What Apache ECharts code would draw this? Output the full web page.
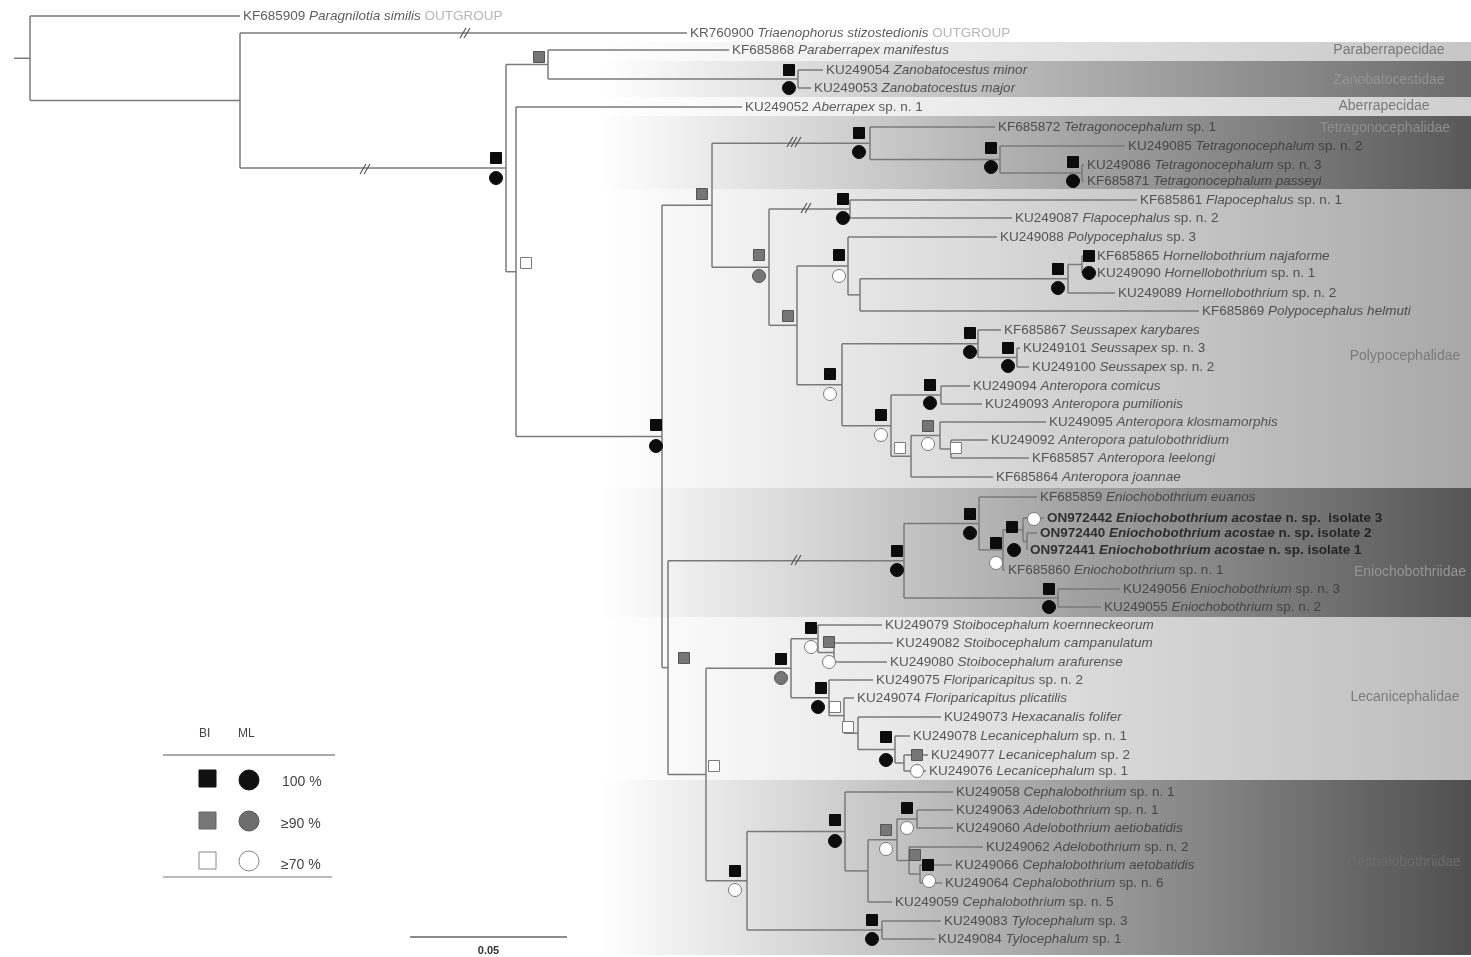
<!DOCTYPE html>
<html>
<head>
<meta charset="utf-8">
<title>Lecanicephalidea tree</title>
<script src="https://cdn.jsdelivr.net/npm/echarts@6/dist/echarts.min.js"></script>
<style>
    html, body { margin: 0; padding: 0; background: #fff; }
    #treeChart { width: 1471px; height: 957px; }
</style>
</head>
<body>
<div id="treeChart"></div>
<script>
// ---- leaves, top to bottom ----
var accessions = ['KF685909','KR760900','KF685868','KU249054','KU249053','KU249052','KF685872','KU249085','KU249086','KF685871',
    'KF685861','KU249087','KU249088','KF685865','KU249090','KU249089','KF685869','KF685867','KU249101','KU249100',
    'KU249094','KU249093','KU249095','KU249092','KF685857','KF685864','KF685859','ON972442','ON972440','ON972441',
    'KF685860','KU249056','KU249055','KU249079','KU249082','KU249080','KU249075','KU249074','KU249073','KU249078',
    'KU249077','KU249076','KU249058','KU249063','KU249060','KU249062','KU249066','KU249064','KU249059','KU249083','KU249084'];
var taxa = ['Paragnilotia similis','Triaenophorus stizostedionis','Paraberrapex manifestus','Zanobatocestus minor','Zanobatocestus major',
    'Aberrapex','Tetragonocephalum','Tetragonocephalum','Tetragonocephalum','Tetragonocephalum passeyi',
    'Flapocephalus','Flapocephalus','Polypocephalus','Hornellobothrium najaforme','Hornellobothrium','Hornellobothrium',
    'Polypocephalus helmuti','Seussapex karybares','Seussapex','Seussapex',
    'Anteropora comicus','Anteropora pumilionis','Anteropora klosmamorphis','Anteropora patulobothridium','Anteropora leelongi','Anteropora joannae',
    'Eniochobothrium euanos','Eniochobothrium acostae','Eniochobothrium acostae','Eniochobothrium acostae',
    'Eniochobothrium','Eniochobothrium','Eniochobothrium','Stoibocephalum koernneckeorum','Stoibocephalum campanulatum','Stoibocephalum arafurense',
    'Floriparicapitus','Floriparicapitus plicatilis','Hexacanalis folifer','Lecanicephalum','Lecanicephalum','Lecanicephalum',
    'Cephalobothrium','Adelobothrium','Adelobothrium aetiobatidis','Adelobothrium','Cephalobothrium aetobatidis','Cephalobothrium',
    'Cephalobothrium','Tylocephalum','Tylocephalum'];
var suffixes = ['','','','','','sp. n. 1','sp. 1','sp. n. 2','sp. n. 3','',
    'sp. n. 1','sp. n. 2','sp. 3','','sp. n. 1','sp. n. 2','','','sp. n. 3','sp. n. 2',
    '','','','','','','','n. sp.  isolate 3','n. sp. isolate 2','n. sp. isolate 1',
    'sp. n. 1','sp. n. 3','sp. n. 2','','','','sp. n. 2','','','sp. n. 1',
    'sp. 2','sp. 1','sp. n. 1','sp. n. 1','','sp. n. 2','','sp. n. 6','sp. n. 5','sp. 3','sp. 1'];
var outgroups = [0, 1];
var newIsolates = [27, 28, 29];
var leafY = [16,33,50,70,88,107,127,146,165,181,200,218,237,256,273,293,311,330,348,367,386,404,422,440,458,477,
    497,518,533,550,570,589,607,625,643,662,680,698,717,736,755,771,792,810,828,847,865,883,902,921,939];
var labelX = [243,690,732,826,814,745,998,1128,1087,1087,1140,1015,1000,1097,1097,1118,1202,1004,1023,1032,
    973,985,1049,991,1032,996,1040,1047,1040,1030,1008,1123,1104,885,896,890,876,857,944,913,931,929,
    956,956,956,986,955,945,895,944,938];

// ---- internal nodes (numbers in kids are leaves) ----
var nodeNames = ['root','out','ing','pz','zan','ab','big','up','tet','t2','t3','poly','flap','pp','pol3','hh','horn','h2',
    'sa','seu','s2','ant','a1','ax','ay','az','low','enio','e1','e2','e3','e3b','e4','lc','lec','sto','st2','fl','f2','f3',
    'lec2','l3','ceph','c1','cx','c2','ad','c3','c4','ty'];
var nodeX = [30,240,506,548,798,516,662,712,870,1000,1082,769,850,797,848,860,1068,1082,
    842,978,1017,891,941,911,940,951,668,904,979,1003,1023,1027,1058,706,791,818,834,829,844,858,
    895,904,747,845,868,897,917,909,920,882];
var nodeKids = [[0,'out'],[1,'ing'],['pz','ab'],[2,'zan'],[3,4],[5,'big'],['up','low'],['tet','poly'],[6,'t2'],[7,'t3'],[8,9],
    ['flap','pp'],[10,11],['pol3','sa'],[12,'hh'],['horn',16],['h2',15],[13,14],['seu','ant'],[17,'s2'],[18,19],
    ['a1','ax'],[20,21],['ay',25],[22,'az'],[23,24],['enio','lc'],['e1','e4'],[26,'e2'],['e3',30],[27,'e3b'],[28,29],[31,32],
    ['lec','ceph'],['sto','fl'],[33,'st2'],[34,35],[36,'f2'],[37,'f3'],[38,'lec2'],[39,'l3'],[40,41],
    ['c1','ty'],[42,'cx'],['c2',48],['ad','c3'],[43,44],[45,'c4'],[46,47],[49,50]];
var rootStubX = 14;

// ---- support symbols: x, y, s = BI square / c = ML circle, support % ----
var supports = [
    [496,158,'s',100],[496,178,'c',100],[539,57,'s',90],[789,70,'s',100],[789,88,'c',100],[526,263,'s',70],
    [656,425,'s',100],[656,446,'c',100],[702,194,'s',90],[859,133,'s',100],[859,152,'c',100],
    [991,148,'s',100],[991,167,'c',100],[1073,162,'s',100],[1073,181,'c',100],
    [759,255,'s',90],[759,276,'c',90],[843,199,'s',100],[843,218,'c',100],[788,316,'s',90],
    [839,255,'s',100],[839,276,'c',70],[1058,269,'s',100],[1058,288,'c',100],[1089,256,'s',100],[1089,273,'c',100],
    [830,374,'s',100],[830,394,'c',70],[970,333,'s',100],[970,352,'c',100],[1008,348,'s',100],[1008,366,'c',100],
    [881,415,'s',100],[881,435,'c',70],[930,385,'s',100],[930,403,'c',100],[900,448,'s',70],
    [928,426,'s',90],[928,444,'c',70],[956,448,'s',70],
    [684,658,'s',90],[897,551,'s',100],[897,570,'c',100],[970,514,'s',100],[970,533,'c',100],
    [996,543,'s',100],[996,563,'c',70],[1012,527,'s',100],[1014,550,'c',100],[1034,519,'c',70],
    [1049,589,'s',100],[1049,607,'c',100],
    [714,766,'s',70],[781,659,'s',100],[781,678,'c',90],[811,628,'s',100],[811,647,'c',70],
    [829,642,'s',90],[829,662,'c',70],[821,688,'s',100],[818,707,'c',100],[835,707,'s',70],[848,727,'s',70],
    [886,737,'s',100],[886,760,'c',100],[917,755,'s',90],[917,771,'c',70],
    [735,871,'s',100],[735,890,'c',70],[835,820,'s',100],[835,841,'c',100],[907,808,'s',100],[907,828,'c',70],
    [886,830,'s',90],[886,849,'c',70],[915,855,'s',90],[928,865,'s',100],[929,881,'c',70],
    [872,920,'s',100],[872,939,'c',100]
];

// ---- shortened branches: x, y, number of slashes ----
var breakMarks = [[465,33,2],[365,169,2],[794,142,3],[806,208,2],[796,560,2]];

// ---- family bands ----
var familyNames = ['Paraberrapecidae','Zanobatocestidae','Aberrapecidae','Tetragonocephalidae','Polypocephalidae',
    'Eniochobothriidae','Lecanicephalidae','Cephalobothriidae'];
var familyTop = [42,61,97,116,189,488,617,780];
var familyBottom = [61,97,116,189,488,617,780,955];
var familyShade = ['#c6c6c6','#6a6a6a','#cfcfcf','#585858','#a8a8a8','#555555','#bcbcbc','#4f4f4f'];
var familyTextColor = ['#7a7a7a','#939393','#7a7a7a','#8e8e8e','#7a7a7a','#959595','#7a7a7a','#6c6c6c'];
var familyLabelX = [1389,1389,1384,1385,1405,1410,1405,1404];
var familyLabelY = [50,80,106,128,356,572,697,862];
var bandStartX = 600;
var bandEndX = 1471;

var scaleBar = [[410, 567, 937, '0.05']];

var fontName = '"Liberation Sans", Arial, sans-serif';
var labelSize = 13.5;

function nodeIndex(id) { return nodeNames.indexOf(id); }

function kidX(k) { return typeof k === 'number' ? labelX[k] - 3 : nodeX[nodeIndex(k)]; }

function kidY(k) {
    if (typeof k === 'number') return leafY[k];
    var kids = nodeKids[nodeIndex(k)];
    var ys = kids.map(kidY);
    return (Math.min.apply(null, ys) + Math.max.apply(null, ys)) / 2;
}

var segments = [];
nodeNames.forEach(function (name, i) {
    var ys = nodeKids[i].map(kidY);
    segments.push([nodeX[i], Math.min.apply(null, ys), nodeX[i], Math.max.apply(null, ys)]);
    nodeKids[i].forEach(function (k, j) {
        segments.push([nodeX[i], ys[j], kidX(k), ys[j]]);
    });
});
var rootY = kidY('root');
segments.push([rootStubX, rootY, nodeX[0], rootY]);

var supportColors = {100: '#0c0c0c', 90: '#767676', 70: '#ffffff'};
var supportBorders = {100: '#0c0c0c', 90: '#555555', 70: '#7a7a7a'};
var supportData = supports.map(function (s) {
    return {
        value: [s[0], s[1]],
        symbol: s[2] === 's' ? 'rect' : 'circle',
        symbolSize: s[2] === 's' ? 11 : 13,
        itemStyle: {color: supportColors[s[3]], borderColor: supportBorders[s[3]], borderWidth: 1, opacity: 1}
    };
});

var leafData = accessions.map(function (acc, i) {
    var bold = newIsolates.indexOf(i) >= 0;
    var a = bold ? 'ab' : 'a', it = bold ? 'ib' : 'i';
    var txt = '{' + a + '|' + acc + '} {' + it + '|' + taxa[i] + '}';
    if (suffixes[i]) txt += ' {' + a + '|' + suffixes[i] + '}';
    if (outgroups.indexOf(i) >= 0) txt += ' {o|OUTGROUP}';
    return {value: [labelX[i], leafY[i]], labelText: txt};
});

var bandData = familyNames.map(function (n, i) { return [familyTop[i], familyBottom[i], i]; });

var chart = echarts.init(document.getElementById('treeChart'));

var option = {
    backgroundColor: '#ffffff',
    animation: false,
    grid: {left: 0, right: 0, top: 0, bottom: 0},
    xAxis: {type: 'value', min: 0, max: 1471, show: false},
    yAxis: {type: 'value', min: 0, max: 957, inverse: true, show: false},
    graphic: [
        {type: 'text', left: 199, top: 728, style: {text: 'BI', fontSize: 12, fill: '#444', fontFamily: fontName}},
        {type: 'text', left: 238, top: 728, style: {text: 'ML', fontSize: 12, fill: '#444', fontFamily: fontName}},
        {type: 'line', shape: {x1: 163, y1: 755, x2: 335, y2: 755}, style: {stroke: '#555', lineWidth: 1}},
        {type: 'rect', shape: {x: 199, y: 770, width: 17, height: 17}, style: {fill: '#111', stroke: '#111'}},
        {type: 'circle', shape: {cx: 249, cy: 780, r: 10}, style: {fill: '#111', stroke: '#111'}},
        {type: 'text', left: 282, top: 775, style: {text: '100 %', fontSize: 14, fill: '#444', fontFamily: fontName}},
        {type: 'rect', shape: {x: 199, y: 812, width: 17, height: 17}, style: {fill: '#777', stroke: '#666'}},
        {type: 'circle', shape: {cx: 249, cy: 821, r: 10}, style: {fill: '#6e6e6e', stroke: '#555'}},
        {type: 'text', left: 281, top: 817, style: {text: '≥90 %', fontSize: 14, fill: '#444', fontFamily: fontName}},
        {type: 'rect', shape: {x: 199, y: 852, width: 17, height: 17}, style: {fill: '#fff', stroke: '#888'}},
        {type: 'circle', shape: {cx: 249, cy: 861, r: 10}, style: {fill: '#fff', stroke: '#888'}},
        {type: 'text', left: 281, top: 858, style: {text: '≥70 %', fontSize: 14, fill: '#444', fontFamily: fontName}},
        {type: 'line', shape: {x1: 163, y1: 877, x2: 332, y2: 877}, style: {stroke: '#777', lineWidth: 1}}
    ],
    series: [
        {
            type: 'custom',
            name: 'families',
            z: 1,
            silent: true,
            data: bandData,
            encode: {y: [0, 1]},
            renderItem: function (params, api) {
                var i = api.value(2);
                var p1 = api.coord([bandStartX, api.value(0)]);
                var p2 = api.coord([bandEndX, api.value(1)]);
                var t = api.coord([familyLabelX[i], familyLabelY[i]]);
                return {
                    type: 'group',
                    children: [
                        {
                            type: 'rect',
                            shape: {x: p1[0], y: p1[1], width: p2[0] - p1[0], height: p2[1] - p1[1]},
                            style: {
                                fill: new echarts.graphic.LinearGradient(0, 0, 1, 0, [
                                    {offset: 0, color: '#ffffff'},
                                    {offset: 1, color: familyShade[i]}
                                ])
                            }
                        },
                        {
                            type: 'text',
                            x: t[0], y: t[1],
                            style: {
                                text: familyNames[i], fill: familyTextColor[i], fontSize: 14,
                                fontFamily: fontName, align: 'center', verticalAlign: 'middle'
                            }
                        }
                    ]
                };
            }
        },
        {
            type: 'custom',
            name: 'branches',
            z: 2,
            silent: true,
            data: segments,
            encode: {x: [0, 2], y: [1, 3]},
            renderItem: function (params, api) {
                var p1 = api.coord([api.value(0), api.value(1)]);
                var p2 = api.coord([api.value(2), api.value(3)]);
                return {
                    type: 'line',
                    shape: {x1: p1[0], y1: p1[1], x2: p2[0], y2: p2[1]},
                    style: {stroke: '#7a7a7a', lineWidth: 1.5}
                };
            }
        },
        {
            type: 'custom',
            name: 'breaks',
            z: 3,
            silent: true,
            data: breakMarks,
            renderItem: function (params, api) {
                var c = api.coord([api.value(0), api.value(1)]);
                var n = api.value(2);
                var kids = [];
                for (var k = 0; k < n; k++) {
                    var cx = c[0] + k * 4 - (n - 1) * 2;
                    kids.push({
                        type: 'line',
                        shape: {x1: cx - 3, y1: c[1] + 5, x2: cx + 3, y2: c[1] - 5},
                        style: {stroke: '#555', lineWidth: 1.2}
                    });
                }
                return {type: 'group', children: kids};
            }
        },
        {
            type: 'custom',
            name: 'scale',
            z: 3,
            silent: true,
            data: scaleBar,
            renderItem: function (params, api) {
                var p1 = api.coord([api.value(0), api.value(2)]);
                var p2 = api.coord([api.value(1), api.value(2)]);
                return {
                    type: 'group',
                    children: [
                        {type: 'line', shape: {x1: p1[0], y1: p1[1], x2: p2[0], y2: p2[1]}, style: {stroke: '#666', lineWidth: 1.5}},
                        {type: 'text', x: (p1[0] + p2[0]) / 2, y: p1[1] + 14,
                            style: {text: scaleBar[params.dataIndex][3], fontSize: 11, fontWeight: 'bold', fill: '#333',
                                fontFamily: fontName, align: 'center', verticalAlign: 'middle'}}
                    ]
                };
            }
        },
        {
            type: 'scatter',
            name: 'support',
            z: 4,
            silent: true,
            itemStyle: {opacity: 1},
            data: supportData
        },
        {
            type: 'scatter',
            name: 'taxa',
            z: 5,
            silent: true,
            symbolSize: 0,
            data: leafData,
            label: {
                show: true,
                position: 'right',
                distance: 0,
                fontSize: labelSize,
                fontFamily: fontName,
                color: '#333',
                formatter: function (p) { return leafData[p.dataIndex].labelText; },
                rich: {
                    a: {fontSize: labelSize, color: '#333', fontFamily: fontName},
                    i: {fontSize: labelSize, color: '#333', fontStyle: 'italic', fontFamily: fontName},
                    ab: {fontSize: labelSize, color: '#111', fontWeight: 'bold', fontFamily: fontName},
                    ib: {fontSize: labelSize, color: '#111', fontWeight: 'bold', fontStyle: 'italic', fontFamily: fontName},
                    o: {fontSize: labelSize, color: '#a5a5a5', fontFamily: fontName}
                }
            }
        }
    ]
};

chart.setOption(option);
</script>
</body>
</html>
